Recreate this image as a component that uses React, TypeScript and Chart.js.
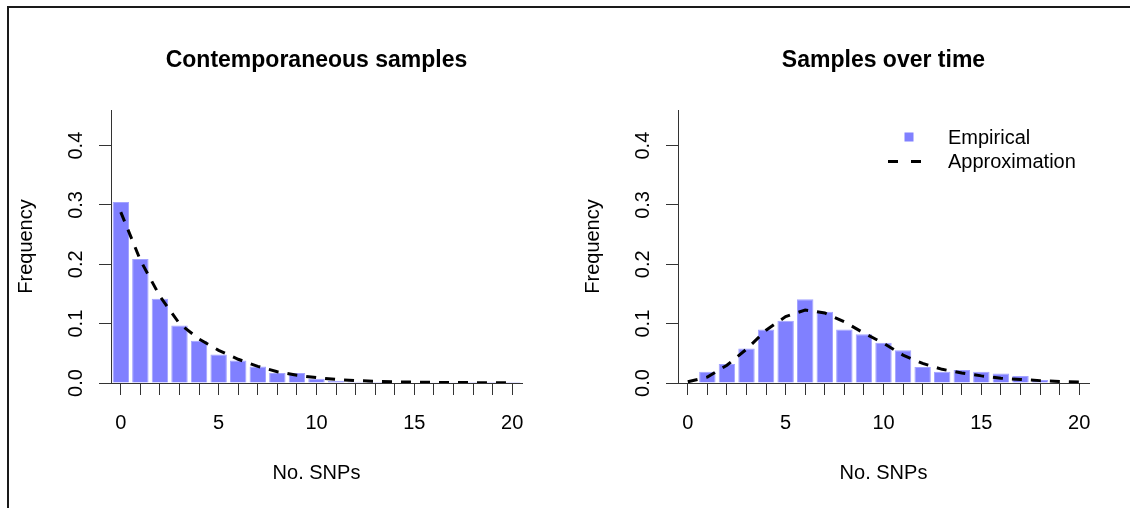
import React, { useEffect, useRef } from "react";
import { Chart, registerables } from "chart.js";

Chart.register(...registerables);

// ---- data ----
const SNP_COUNTS = [0, 1, 2, 3, 4, 5, 6, 7, 8, 9, 10, 11, 12, 13, 14, 15, 16, 17, 18, 19, 20];
const X_TICKS = [0, 1, 2, 3, 4, 5, 6, 7, 8, 9, 10, 11, 12, 13, 14, 15, 16, 17, 18, 19, 20];
const X_LABELED = [0, 5, 10, 15, 20];
const Y_TICKS = [0, 0.1, 0.2, 0.3, 0.4];
const Y_MAX = 0.46;

const CONTEMP_EMPIRICAL = [0.305, 0.209, 0.142, 0.097, 0.071, 0.048, 0.038, 0.028, 0.017, 0.017, 0.007, 0.004, 0.002, 0.0015, 0.001, 0.0008, 0.0005, 0.0003, 0.0002, 0.0001, 0.0001];
const CONTEMP_APPROX = [0.288, 0.207, 0.146, 0.1, 0.074, 0.055, 0.04, 0.028, 0.019, 0.013, 0.009, 0.006, 0.004, 0.003, 0.002, 0.0015, 0.001, 0.0008, 0.0006, 0.0005, 0.0004];

const OVERTIME_EMPIRICAL = [0, 0.019, 0.032, 0.058, 0.09, 0.105, 0.141, 0.12, 0.09, 0.082, 0.068, 0.055, 0.027, 0.019, 0.022, 0.019, 0.016, 0.012, 0.005, 0.001, 0];
const OVERTIME_APPROX = [0.002, 0.01, 0.03, 0.057, 0.089, 0.112, 0.123, 0.118, 0.103, 0.084, 0.067, 0.047, 0.033, 0.023, 0.017, 0.012, 0.008, 0.006, 0.004, 0.0025, 0.0015];

const TITLES = ["Contemporaneous samples", "Samples over time"];
const SERIES_NAMES = ["Empirical", "Approximation"];

const FONT = "'Liberation Sans', Arial, Helvetica, sans-serif";
const BAR_COLOR = "#8080ff";
const AXIS_COLOR = "#333333";

const rDecor = {
  id: "rDecor",
  afterDraw(chart: any, _args: any, opts: any) {
    const { ctx, chartArea } = chart;
    const yScale = chart.scales.y;
    ctx.save();
    ctx.fillStyle = "#000";
    // main title
    ctx.font = `bold 23px ${FONT}`;
    ctx.textAlign = "center";
    ctx.textBaseline = "alphabetic";
    ctx.fillText(opts.title, (chartArea.left + chartArea.right) / 2, 67);
    // rotated y tick labels (R style)
    ctx.font = `20px ${FONT}`;
    for (const t of yScale.ticks) {
      const py = yScale.getPixelForValue(t.value);
      ctx.save();
      ctx.translate(82, py);
      ctx.rotate(-Math.PI / 2);
      ctx.textAlign = "center";
      ctx.textBaseline = "alphabetic";
      ctx.fillText(Number(t.value).toFixed(1), 0, 0);
      ctx.restore();
    }
    // legend
    if (opts.legend) {
      const ds = chart.data.datasets;
      ctx.fillStyle = BAR_COLOR;
      ctx.fillRect(342 - 4.5, 137 - 4.5, 9, 9);
      ctx.strokeStyle = "#000";
      ctx.lineWidth = 3;
      ctx.setLineDash([10, 13]);
      ctx.beginPath();
      ctx.moveTo(321, 161.5);
      ctx.lineTo(354, 161.5);
      ctx.stroke();
      ctx.setLineDash([]);
      ctx.fillStyle = "#000";
      ctx.font = `20px ${FONT}`;
      ctx.textAlign = "left";
      ctx.textBaseline = "alphabetic";
      ctx.fillText(ds[0].label, 381, 144);
      ctx.fillText(ds[1].label, 381, 168);
    }
    ctx.restore();
  },
};

function makeConfig(empirical: number[], approx: number[], title: string, legend: boolean): any {
  return {
    type: "bar",
    data: {
      datasets: [
        {
          type: "bar",
          label: SERIES_NAMES[0],
          data: SNP_COUNTS.map((x, i) => ({ x, y: empirical[i] })),
          backgroundColor: BAR_COLOR,
          borderColor: "#a3a3ff",
          borderWidth: 1,
          barPercentage: 0.84,
          categoryPercentage: 1,
          order: 2,
        },
        {
          type: "line",
          label: SERIES_NAMES[1],
          data: SNP_COUNTS.map((x, i) => ({ x, y: approx[i] })),
          borderColor: "#000",
          borderWidth: 3,
          borderDash: [10, 9],
          pointRadius: 0,
          tension: 0,
          fill: false,
          order: 1,
        },
      ],
    },
    options: {
      responsive: false,
      animation: false,
      events: [],
      layout: { padding: { left: 0, top: 110, right: 41, bottom: 0 } },
      plugins: {
        legend: { display: false },
        title: { display: false },
        tooltip: { enabled: false },
        rDecor: { title, legend },
      },
      scales: {
        x: {
          type: "linear",
          min: -0.5,
          max: 20.5,
          offset: false,
          afterBuildTicks: (s: any) => {
            s.ticks = X_TICKS.map((v) => ({ value: v }));
          },
          afterFit: (s: any) => {
            s.height = 125;
          },
          ticks: {
            autoSkip: false,
            maxRotation: 0,
            minRotation: 0,
            padding: 16,
            color: "#000",
            font: { family: FONT, size: 20 },
            callback: (v: any) => (X_LABELED.includes(Number(v)) ? String(v) : ""),
          },
          grid: {
            display: true,
            offset: false,
            drawOnChartArea: false,
            drawTicks: true,
            tickLength: 12,
            color: AXIS_COLOR,
            lineWidth: 1,
          },
          border: { display: true, color: AXIS_COLOR, width: 1 },
          title: {
            display: true,
            text: "No. SNPs",
            color: "#000",
            font: { family: FONT, size: 20 },
            padding: { top: 0, bottom: 23 },
          },
        },
        y: {
          type: "linear",
          min: 0,
          max: Y_MAX,
          afterBuildTicks: (s: any) => {
            s.ticks = Y_TICKS.map((v) => ({ value: v }));
          },
          afterFit: (s: any) => {
            s.width = 111;
          },
          ticks: { display: false },
          grid: {
            display: true,
            drawOnChartArea: false,
            drawTicks: true,
            tickLength: 12,
            color: AXIS_COLOR,
            lineWidth: 1,
          },
          border: { display: true, color: AXIS_COLOR, width: 1 },
          title: {
            display: true,
            text: "Frequency",
            color: "#000",
            font: { family: FONT, size: 20 },
            padding: { top: 14, bottom: 0 },
          },
        },
      },
    },
    plugins: [rDecor],
  };
}

export default function App() {
  const leftRef = useRef<HTMLCanvasElement>(null);
  const rightRef = useRef<HTMLCanvasElement>(null);

  useEffect(() => {
    const c1 = new Chart(leftRef.current as HTMLCanvasElement, makeConfig(CONTEMP_EMPIRICAL, CONTEMP_APPROX, TITLES[0], false));
    const c2 = new Chart(rightRef.current as HTMLCanvasElement, makeConfig(OVERTIME_EMPIRICAL, OVERTIME_APPROX, TITLES[1], true));
    return () => {
      c1.destroy();
      c2.destroy();
    };
  }, []);

  return (
    <div style={{ position: "absolute", left: 0, top: 0, width: 1130, height: 508, overflow: "hidden", background: "#fff" }}>
      <div
        style={{
          position: "absolute",
          left: 7,
          top: 6,
          width: 1140,
          height: 520,
          borderTop: "2px solid #1a1a1a",
          borderLeft: "2px solid #1a1a1a",
        }}
      />
      <canvas ref={leftRef} width={563} height={508} style={{ position: "absolute", left: 0, top: 0, width: 563, height: 508 }} />
      <canvas ref={rightRef} width={563} height={508} style={{ position: "absolute", left: 567, top: 0, width: 563, height: 508 }} />
    </div>
  );
}
